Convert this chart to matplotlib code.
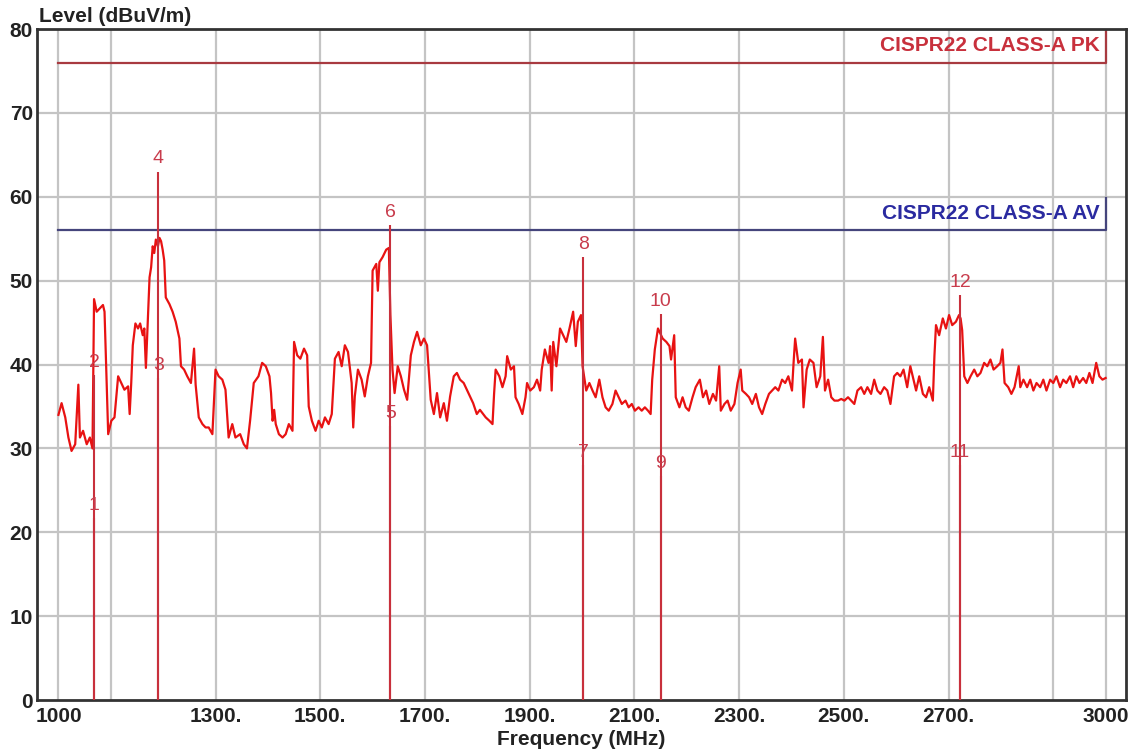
import numpy as np
import matplotlib
matplotlib.use('Agg')
import matplotlib.pyplot as plt

plt.rcParams['font.family'] = ['Liberation Sans', 'DejaVu Sans']

# Measured trace (MHz, dBuV/m)
freq = [1000, 1006, 1013, 1019, 1025, 1032, 1038, 1041, 1047, 1054, 1060, 1065,
        1068, 1073, 1079, 1085, 1088, 1092, 1095, 1101, 1107, 1114, 1120, 1126,
        1133, 1136, 1139, 1142, 1147, 1152, 1156, 1161, 1164, 1167, 1171, 1174,
        1177, 1180, 1183, 1186, 1190, 1193, 1196, 1199, 1202, 1205, 1212, 1218,
        1224, 1231, 1234, 1240, 1246, 1253, 1259, 1262, 1268, 1275, 1281, 1287,
        1294, 1300, 1306, 1313, 1319, 1325, 1332, 1338, 1347, 1354, 1360, 1366,
        1373, 1382, 1389, 1396,
        1403, 1406, 1409, 1412, 1415, 1421, 1428, 1434, 1440, 1447, 1450, 1456,
        1462, 1469, 1475, 1478, 1484, 1491, 1497, 1503, 1509, 1516, 1522, 1528,
        1535, 1541, 1547, 1553, 1560, 1563, 1566, 1572, 1579, 1585, 1591, 1597,
        1600, 1607, 1610, 1613, 1619, 1626, 1631, 1634, 1638, 1642, 1648, 1654,
        1660, 1666, 1673, 1679, 1685, 1692, 1698, 1704, 1711, 1717, 1723, 1729,
        1736, 1742, 1748, 1755, 1761, 1767, 1774, 1780, 1786, 1792, 1799, 1805,
        1816, 1823, 1829, 1832, 1835, 1842, 1848, 1854, 1857, 1864, 1870, 1873,
        1879, 1886, 1892, 1895, 1901, 1908, 1914, 1920, 1923, 1929, 1936, 1939,
        1942, 1945, 1951, 1958, 1964, 1970, 1976, 1983, 1988, 1992, 1998, 2001,
        2008, 2014, 2020, 2026, 2033, 2039, 2045, 2051, 2058, 2064, 2070, 2076,
        2083, 2089, 2095, 2101, 2108, 2114, 2120, 2126, 2131, 2134, 2139, 2145,
        2148, 2154, 2161, 2167, 2170, 2176, 2179, 2186, 2192, 2198, 2204, 2211,
        2217,
        2225, 2231, 2237, 2243, 2250, 2256, 2262, 2265, 2272, 2278, 2284, 2291,
        2297, 2303, 2306, 2313, 2319, 2325, 2332, 2338, 2344, 2350, 2357, 2363,
        2369, 2375, 2382, 2388, 2394, 2401, 2404, 2407, 2413, 2420, 2423, 2429,
        2435, 2442, 2448, 2455, 2460, 2464, 2470, 2476, 2482, 2489, 2495, 2501,
        2508, 2514, 2520, 2526, 2533, 2539, 2545, 2552, 2558, 2564, 2570, 2577,
        2583, 2589, 2596, 2602, 2608, 2614, 2621, 2627, 2633,
        2638, 2644, 2651, 2657, 2663, 2670, 2673, 2676, 2682, 2689, 2695, 2701,
        2707, 2714, 2720, 2723, 2726, 2730, 2736, 2742, 2749, 2755, 2761, 2768,
        2774, 2780, 2786, 2793, 2799, 2803, 2807, 2814, 2820, 2826, 2834, 2837,
        2843, 2850, 2856, 2862, 2868, 2875, 2881, 2887, 2894, 2900, 2906, 2913,
        2919, 2925, 2932, 2938, 2944, 2950, 2957, 2963, 2969, 2975, 2982, 2988,
        2994, 3000]
level = [34.0, 35.4, 33.7, 31.3, 29.7, 30.5, 37.6, 31.3, 32.1, 30.5, 31.3, 30.0,
         47.8, 46.3, 46.7, 47.1, 46.3, 38.2, 31.7, 33.3, 33.7, 38.6, 37.8, 37.0,
         37.4, 34.1, 37.8, 42.3, 44.9, 44.3, 44.9, 43.5, 44.3, 39.6, 45.9, 50.4,
         51.6, 54.1, 53.3, 54.9, 54.1, 55.1, 54.7, 53.7, 52.4, 48.0, 47.2, 46.3,
         45.1, 43.1, 39.8, 39.4, 38.6, 37.8, 41.9, 37.6, 33.7, 32.9, 32.5, 32.5,
         31.7, 39.4, 38.6, 38.2, 37.0, 31.3, 32.9, 31.3, 31.7, 30.5, 30.0, 33.3,
         37.8, 38.6, 40.2, 39.8,
         38.6, 36.6, 33.3, 34.6, 32.9, 31.7, 31.3, 31.7, 32.9, 32.1, 42.7, 41.1,
         40.7, 41.9, 41.1, 35.0, 33.3, 32.1, 33.3, 32.5, 33.7, 32.9, 34.1, 40.7,
         41.5, 39.8, 42.3, 41.5, 37.8, 32.5, 36.2, 39.4, 38.2, 36.2, 38.6, 40.2,
         51.2, 52.0, 48.8, 52.2, 52.8, 53.7, 53.9, 45.9, 39.4, 36.6, 39.8, 38.6,
         37.0, 35.8, 41.1, 42.7, 43.9, 42.3, 43.1, 42.3, 35.8, 34.1, 36.6, 33.7,
         35.4, 33.3, 36.2, 38.6, 39.0, 38.2, 37.8, 37.0, 36.2, 35.4, 34.1, 34.6,
         33.7, 33.3, 32.9, 36.5, 39.4, 38.6, 37.3, 38.6, 41.0, 39.4, 39.8, 36.1,
         35.3, 34.1, 36.1, 37.8, 36.9, 37.3, 38.2, 36.9, 39.4, 41.8, 40.2, 42.2,
         36.9, 42.7, 39.8, 44.3, 43.5, 42.7, 44.3, 46.3, 42.2, 45.1, 45.9, 39.8,
         36.9, 37.8, 36.9, 36.1, 38.2, 36.1, 34.9, 34.5, 35.3, 36.9, 36.1, 35.3,
         35.7, 34.9, 35.3, 34.5, 34.9, 34.5, 34.9, 34.5, 34.1, 38.2, 41.8, 44.3,
         43.9, 43.1, 42.7, 42.2, 40.6, 43.5, 36.1, 34.9, 36.1, 34.9, 34.5, 36.1,
         37.3,
         38.2, 36.1, 36.9, 35.3, 36.5, 35.7, 39.8, 34.5, 35.3, 35.7, 34.5, 35.3,
         37.8, 39.4, 36.9, 36.5, 36.1, 35.3, 36.5, 34.9, 34.1, 35.3, 36.5, 36.9,
         37.3, 36.9, 38.2, 37.8, 38.6, 36.9, 40.2, 43.1, 40.2, 40.6, 34.9, 39.4,
         40.6, 40.2, 37.3, 38.6, 43.3, 36.9, 38.2, 36.1, 35.7, 35.7, 35.9, 35.7,
         36.1, 35.7, 35.3, 36.9, 37.3, 36.5, 37.3, 36.5, 38.2, 36.9, 36.5, 37.3,
         36.9, 35.3, 38.6, 39.0, 38.6, 39.4, 37.3, 39.8, 38.2,
         36.9, 38.6, 36.5, 36.1, 37.3, 35.7, 41.0, 44.7, 43.5, 45.5, 44.3, 45.9,
         44.7, 45.1, 45.9, 45.5, 44.1, 38.6, 37.8, 38.6, 39.4, 38.6, 39.0, 40.2,
         39.8, 40.6, 39.4, 39.8, 40.2, 41.8, 37.8, 37.3, 36.5, 37.3, 39.8, 37.3,
         38.2, 37.3, 38.2, 36.9, 37.8, 37.3, 38.2, 36.9, 38.2, 37.8, 38.6, 37.3,
         38.2, 37.8, 38.6, 37.3, 38.6, 37.8, 38.4, 37.8, 39.0, 37.8, 40.2, 38.6,
         38.2, 38.4]

# Markers
marker_freq = [1068, 1068, 1191, 1191, 1634, 1634, 2002, 2002, 2150, 2150, 2722, 2722]
marker_level = [21.7, 38.7, 38.4, 63.0, 32.7, 56.6, 28.0, 52.8, 26.7, 46.0, 28.0, 48.3]

# Limits
limit_names = ['CISPR22 CLASS-A PK', 'CISPR22 CLASS-A AV']
limit_levels = [76, 56]

xtick_pos = [1000, 1300, 1500, 1700, 1900, 2100, 2300, 2500, 2700, 3000]
xtick_labels = ['1000', '1300.', '1500.', '1700.', '1900.', '2100.', '2300.',
                '2500.', '2700.', '3000']
xgrid = [1000, 1100, 1300, 1500, 1700, 1900, 2100, 2300, 2500, 2700, 2900, 3000]
ygrid = [10, 20, 30, 40, 50, 60, 70]

fig = plt.figure(figsize=(11.38, 7.55), dpi=100)
ax = fig.add_axes([0.0325, 0.0728, 0.957, 0.8887])
ax.set_xlim(959, 3039)
ax.set_ylim(0, 80)

for g in xgrid:
    ax.axvline(g, color='#c4c4c4', lw=1.6, zorder=0)
for g in ygrid:
    ax.axhline(g, color='#c4c4c4', lw=1.6, zorder=0)

# limit lines with name label and end bracket
lim_line_colors = ['#a83a40', '#45457c']
lim_text_colors = ['#c8303c', '#2a2aa0']
for name, lv, lc, tc in zip(limit_names, limit_levels, lim_line_colors, lim_text_colors):
    ax.plot([1000, 3001, 3001], [lv, lv, lv + 3.9], color=lc, lw=1.6, zorder=2)
    ax.text(2988, lv + 2.0, name, ha='right', va='center', fontsize=15,
            fontweight='bold', color=tc, zorder=3)

ax.plot(freq, level, color='#e81212', lw=1.6, zorder=3)

ax.vlines(marker_freq, 0, marker_level, color='#c8303c', lw=1.5, zorder=4)
for i, (f, lv) in enumerate(zip(marker_freq, marker_level)):
    ax.annotate(str(i + 1), (f, lv), xytext=(0, 3), textcoords='offset points',
                ha='center', va='bottom', fontsize=14, color='#c83c4c', zorder=5)

ax.set_xticks(xtick_pos)
ax.set_xticklabels(xtick_labels)
ax.set_yticks([0, 10, 20, 30, 40, 50, 60, 70, 80])
ax.tick_params(length=0, labelsize=15, colors='#222222')
ax.tick_params(axis='x', pad=5)
ax.tick_params(axis='y', pad=3)
for lab in ax.get_xticklabels() + ax.get_yticklabels():
    lab.set_fontweight('bold')
for sp in ax.spines.values():
    sp.set_color('#333333')
    sp.set_linewidth(2)

fig.text(0.0343, 0.9788, 'Level (dBuV/m)', ha='left', va='center', fontsize=15,
         fontweight='bold', color='#222222')
fig.text(0.511, 0.0199, 'Frequency (MHz)', ha='center', va='center', fontsize=15,
         fontweight='bold', color='#222222')

fig.savefig('out.png', dpi=100)
